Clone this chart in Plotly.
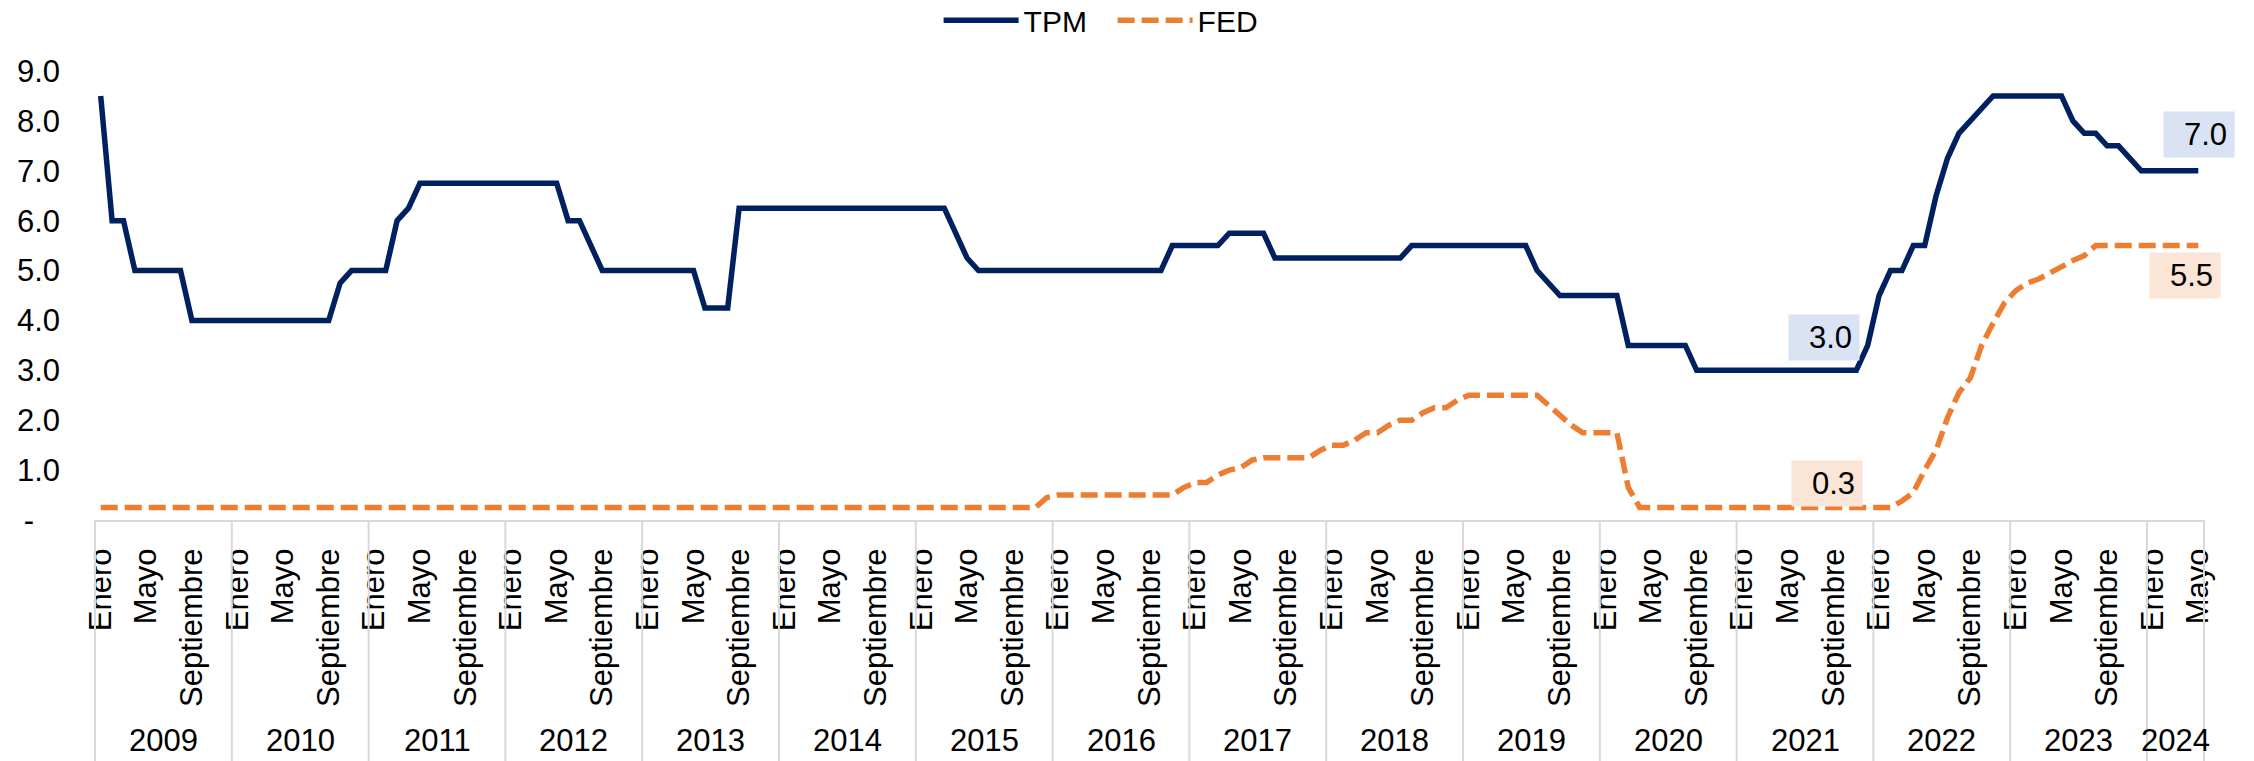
import plotly.graph_objects as go

# monthly series, Jan 2009 .. May 2024
YEARS = [str(y) for y in range(2009, 2025)]
MONTH_NAMES = ["Enero", "", "", "", "Mayo", "", "", "", "Septiembre", "", "", ""]

TPM = [
    8.5, 6.0, 6.0, 5.0, 5.0, 5.0, 5.0, 5.0, 4.0, 4.0, 4.0, 4.0,           # 2009
    4.0, 4.0, 4.0, 4.0, 4.0, 4.0, 4.0, 4.0, 4.0, 4.75, 5.0, 5.0,          # 2010
    5.0, 5.0, 6.0, 6.25, 6.75, 6.75, 6.75, 6.75, 6.75, 6.75, 6.75, 6.75,  # 2011
    6.75, 6.75, 6.75, 6.75, 6.75, 6.0, 6.0, 5.5, 5.0, 5.0, 5.0, 5.0,      # 2012
    5.0, 5.0, 5.0, 5.0, 5.0, 4.25, 4.25, 4.25, 6.25, 6.25, 6.25, 6.25,    # 2013
    6.25, 6.25, 6.25, 6.25, 6.25, 6.25, 6.25, 6.25, 6.25, 6.25, 6.25, 6.25,  # 2014
    6.25, 6.25, 6.25, 5.75, 5.25, 5.0, 5.0, 5.0, 5.0, 5.0, 5.0, 5.0,      # 2015
    5.0, 5.0, 5.0, 5.0, 5.0, 5.0, 5.0, 5.0, 5.0, 5.0, 5.5, 5.5,           # 2016
    5.5, 5.5, 5.5, 5.75, 5.75, 5.75, 5.75, 5.25, 5.25, 5.25, 5.25, 5.25,  # 2017
    5.25, 5.25, 5.25, 5.25, 5.25, 5.25, 5.25, 5.5, 5.5, 5.5, 5.5, 5.5,    # 2018
    5.5, 5.5, 5.5, 5.5, 5.5, 5.5, 5.0, 4.75, 4.5, 4.5, 4.5, 4.5,          # 2019
    4.5, 4.5, 3.5, 3.5, 3.5, 3.5, 3.5, 3.5, 3.0, 3.0, 3.0, 3.0,           # 2020
    3.0, 3.0, 3.0, 3.0, 3.0, 3.0, 3.0, 3.0, 3.0, 3.0, 3.0, 3.5,           # 2021
    4.5, 5.0, 5.0, 5.5, 5.5, 6.5, 7.25, 7.75, 8.0, 8.25, 8.5, 8.5,        # 2022
    8.5, 8.5, 8.5, 8.5, 8.5, 8.0, 7.75, 7.75, 7.5, 7.5, 7.25, 7.0,        # 2023
    7.0, 7.0, 7.0, 7.0, 7.0,                                              # 2024
]

FED = (
    [0.25] * 72                                                           # 2009-2014
    + [0.25] * 11 + [0.45]                                                # 2015
    + [0.5] * 11 + [0.65]                                                 # 2016
    + [0.75, 0.75, 0.9, 1.0, 1.05, 1.2, 1.25, 1.25, 1.25, 1.25, 1.25, 1.4]  # 2017
    + [1.5, 1.5, 1.6, 1.75, 1.75, 1.9, 2.0, 2.0, 2.15, 2.25, 2.25, 2.4]     # 2018
    + [2.5, 2.5, 2.5, 2.5, 2.5, 2.5, 2.5, 2.3, 2.1, 1.9, 1.75, 1.75]        # 2019
    + [1.75, 1.75, 0.65] + [0.25] * 9                                     # 2020
    + [0.25] * 12                                                         # 2021
    + [0.25, 0.25, 0.38, 0.55, 1.0, 1.4, 2.05, 2.55, 2.85, 3.5, 3.95, 4.35]  # 2022
    + [4.6, 4.75, 4.83, 4.95, 5.1, 5.2, 5.3, 5.5, 5.5, 5.5, 5.5, 5.5]       # 2023
    + [5.5] * 5                                                           # 2024
)

# callouts: (series, month index, label, box colour, xshift, yshift)
LABELS = [
    ("TPM", 151, "3.0", "#DAE3F3", 2, 33),
    ("FED", 151, "0.3", "#FBE5D6", 5, 24),
    ("TPM", 184, "7.0", "#DAE3F3", 1, 36),
    ("FED", 184, "5.5", "#FBE5D6", -13, -30),
]

FONT = "Liberation Sans, Arial, sans-serif"
N = len(TPM)
idx = list(range(N))
series = {"TPM": TPM, "FED": FED}

fig = go.Figure()
fig.add_trace(go.Scatter(x=idx, y=TPM, name="TPM", mode="lines",
                         line=dict(color="#002060", width=5.5)))
fig.add_trace(go.Scatter(x=idx, y=FED, name="FED", mode="lines",
                         line=dict(color="#ED7D31", width=5.5, dash="17px,7px")))

tickvals = [i for i in idx if MONTH_NAMES[i % 12]]
ticktext = [MONTH_NAMES[i % 12] for i in tickvals]

annotations = []
for k, year in enumerate(YEARS):
    months = [i for i in idx if i // 12 == k]
    annotations.append(dict(x=(months[0] + months[-1]) / 2, xref="x", y=-0.491, yref="paper",
                            text=year, showarrow=False, font=dict(size=31, color="#000000"),
                            xanchor="center", yanchor="middle", height=30))
for name, i, txt, bg, dx, dy in LABELS:
    annotations.append(dict(x=i, y=series[name][i], xref="x", yref="y", text=txt, showarrow=False,
                            bgcolor=bg, width=56, height=31, borderpad=7, align="right",
                            font=dict(size=31, color="#000000"), xshift=dx, yshift=dy))

shapes = []
for b in list(range(0, N, 12)) + [N]:
    shapes.append(dict(type="line", xref="paper", yref="paper", x0=b / N, x1=b / N, y0=0, y1=-0.54,
                       line=dict(color="#D9D9D9", width=2)))

fig.update_layout(
    width=2254, height=761,
    margin=dict(l=95, r=50, t=71, b=241, autoexpand=False),
    plot_bgcolor="white", paper_bgcolor="white",
    font=dict(family=FONT, size=31, color="#000000"),
    showlegend=True,
    legend=dict(orientation="h", x=0.4, xanchor="left", y=1.171, yanchor="top",
                font=dict(size=30), itemwidth=75, entrywidth=84, entrywidthmode="pixels",
                bgcolor="rgba(0,0,0,0)"),
    xaxis=dict(range=[-0.5, N - 0.5], showgrid=False, zeroline=False, showline=True,
               linecolor="#D9D9D9", linewidth=2, ticks="", tickvals=tickvals, ticktext=ticktext,
               tickangle=-90, tickfont=dict(size=31), ticklabelstandoff=14),
    yaxis=dict(range=[0, 9], showgrid=False, zeroline=False, showline=False, ticks="",
               tickvals=list(range(10)),
               ticktext=["-\u00a0\u00a0\u00a0"] + [f"{v:.1f}" for v in range(1, 10)],
               tickfont=dict(size=31), ticklabelstandoff=34),
    annotations=annotations,
    shapes=shapes,
)

# drop the default page margin so the figure sits at the window's corner
fig.write_html("out.html", config={"displayModeBar": False},
               post_script="document.body.style.margin='0';")
